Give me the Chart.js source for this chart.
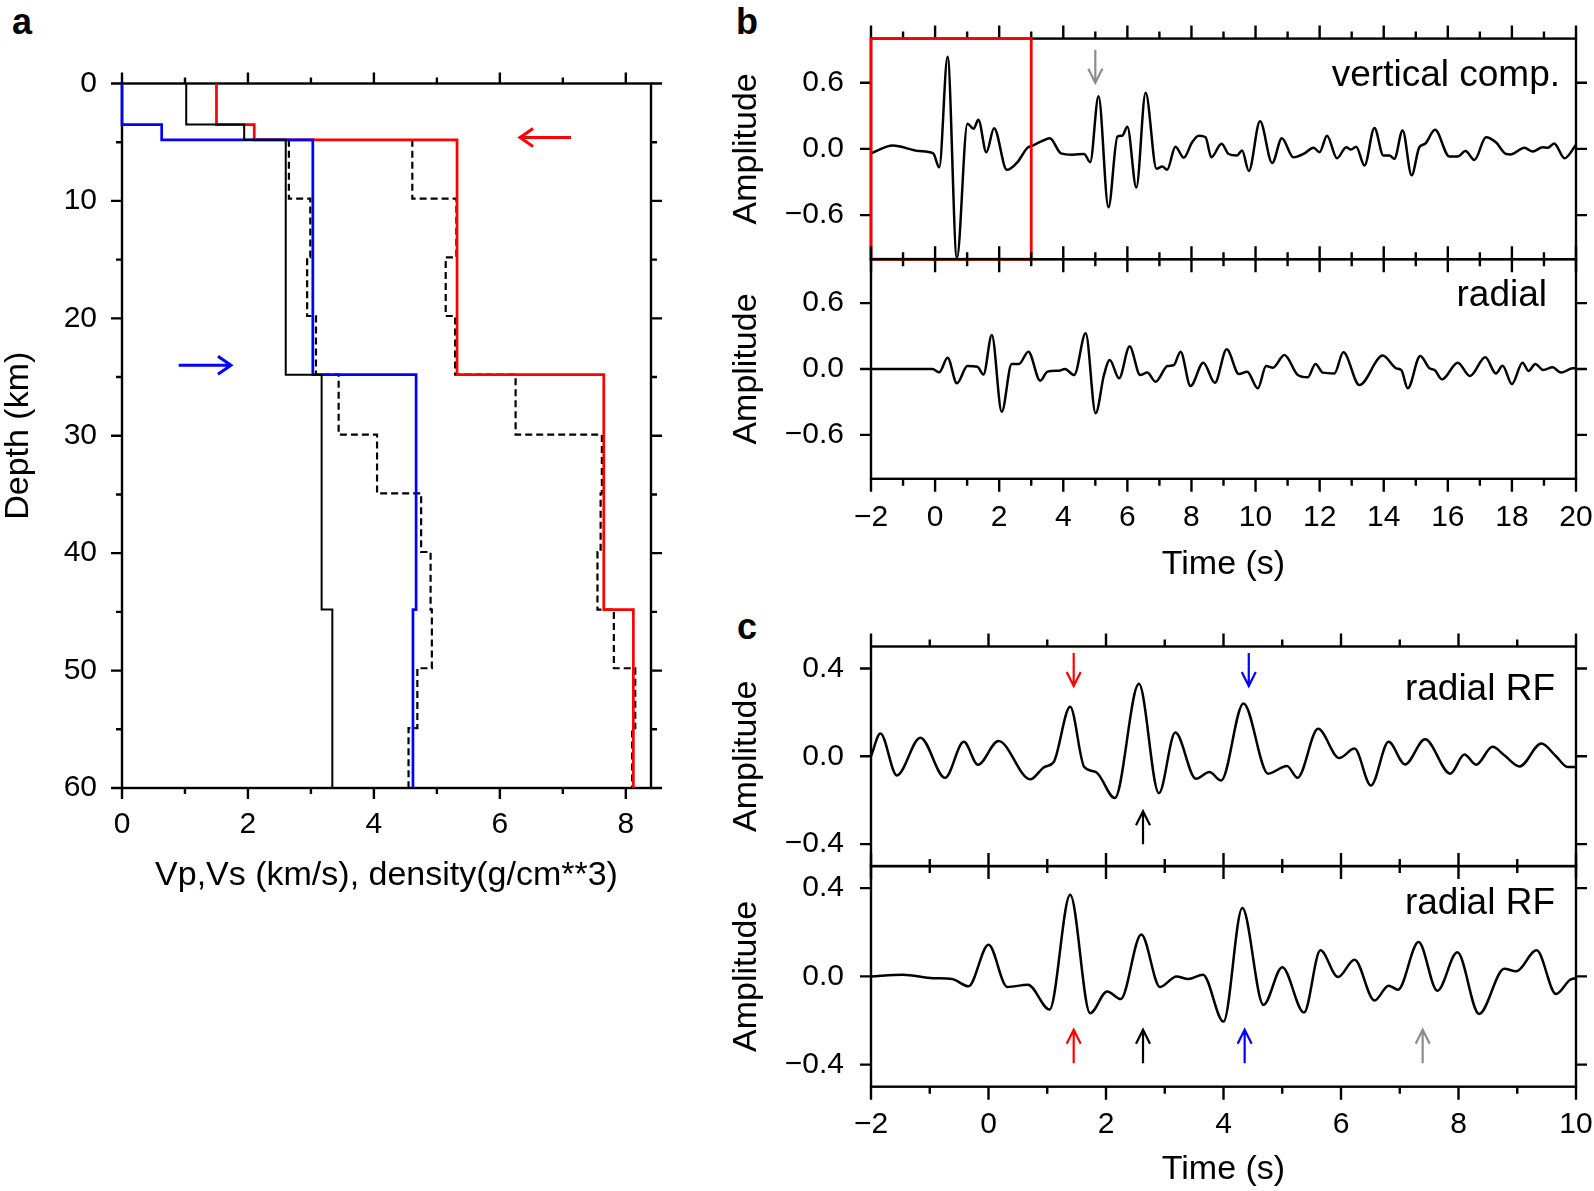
<!DOCTYPE html>
<html>
<head>
<meta charset="utf-8">
<script src="https://cdn.jsdelivr.net/npm/chart.js@4.4.1/dist/chart.umd.min.js"></script>
<style>
body { margin: 0; background: #fff; width: 1594px; height: 1191px; position: relative; overflow: hidden; font-family: "Liberation Sans", Arial, sans-serif; }
canvas { position: absolute; }
.panel { position: absolute; font-weight: bold; font-size: 36px; line-height: 1; color: #000; }
</style>
</head>
<body>
<div class="panel" style="left:12px;top:4px">a</div>
<div class="panel" style="left:736px;top:4px">b</div>
<div class="panel" style="left:737px;top:609px">c</div>
<canvas id="ca" width="700" height="920" style="left:0;top:0"></canvas>
<canvas id="cb1" width="894" height="280" style="left:700px;top:0"></canvas>
<canvas id="cb2" width="894" height="360" style="left:700px;top:240px"></canvas>
<canvas id="cc1" width="894" height="280" style="left:700px;top:600px"></canvas>
<canvas id="cc2" width="894" height="341" style="left:700px;top:850px"></canvas>
<script>
// ---- panel a: layered models (depth in km, values in km/s or g/cm^3) ----
var modelDepth = [0, 3.5, 4.8, 24.8, 44.8, 60];
var vpModel = [1.5, 2.1, 5.32, 7.65, 8.12];
var vsModel = [0, 0.63, 3.03, 4.67, 4.62];
var rhoModel = [1.02, 1.94, 2.6, 3.17, 3.34];
// inverted models (dashed)
var invDepth = [4.8, 9.8, 14.8, 19.8, 24.8, 29.9, 34.9, 39.9, 44.8, 49.8, 54.9, 60];
var vpInv = [4.61, 5.31, 5.14, 5.29, 6.25, 7.62, 7.6, 7.55, 7.81, 8.15, 8.1];
var vsInv = [2.65, 2.99, 2.94, 3.08, 3.44, 4.05, 4.75, 4.9, 4.92, 4.69, 4.55];
var velTicks = [0, 2, 4, 6, 8];
var velMinor = [1, 3, 5, 7];
var depthTicks = [0, 10, 20, 30, 40, 50, 60];
var depthMinor = [5, 15, 25, 35, 45, 55];

// ---- panel b: vertical and radial seismograms ----
var vertT = [-2, -1.32, -0.49, -0.06, 0.13, 0.39, 0.68, 1.01, 1.2, 1.35, 1.6, 1.84, 2.24, 2.57, 2.88, 3.04, 3.33, 3.58, 3.93, 4.29,
  4.65, 4.84, 5.1, 5.41, 5.69, 5.84, 6.0, 6.28, 6.57, 6.91, 7.09, 7.24, 7.5, 7.76, 8.02, 8.23, 8.44, 8.62, 8.94, 9.16,
  9.42, 9.58, 9.79, 10.14, 10.52, 10.82, 11.18, 11.53, 11.81, 12.0, 12.23, 12.54, 12.83, 12.98, 13.14, 13.4, 13.71, 13.99, 14.18, 14.33,
  14.59, 14.87, 15.11, 15.29, 15.6, 16.05, 16.31, 16.55, 16.83, 17.19, 17.5, 17.82, 17.97, 18.39, 18.65, 18.96, 19.12, 19.32, 19.64, 20];
var vertA = [-0.04, 0.03, -0.02, -0.04, -0.167, 0.836, -0.99, 0.228, 0.182, 0.264, -0.03, 0.188, -0.19, -0.12, 0.01, 0.03, 0.07, 0.097, -0.04, -0.052,
  -0.046, -0.12, 0.477, -0.53, 0.112, 0.12, 0.2, -0.35, 0.51, -0.18, -0.16, -0.19, 0.02, -0.08, 0.06, 0.12, 0.106, -0.076, 0.046, -0.046,
  -0.06, -0.015, -0.2, 0.25, -0.128, 0.097, -0.076, -0.04, 0.01, -0.03, 0.12, -0.085, 0.015, -0.006, 0.02, -0.15, 0.19, -0.06, -0.06, -0.09,
  0.167, -0.24, 0.015, 0.046, 0.173, -0.07, -0.07, -0.02, -0.1, 0.106, 0.06, -0.046, -0.05, 0.01, -0.024, 0.015, 0.01, 0.05, -0.085, 0.036];
var radT = [-2, -0.08, 0.13, 0.39, 0.68, 1.01, 1.32, 1.51, 1.77, 2.08, 2.39, 2.62, 2.91, 3.28, 3.51, 3.87, 4.05, 4.34, 4.7, 5.01,
  5.27, 5.45, 5.74, 6.07, 6.4, 6.62, 6.88, 7.25, 7.45, 7.66, 7.97, 8.37, 8.73, 9.1, 9.48, 9.74, 10.07, 10.33, 10.54, 10.9,
  11.32, 11.63, 11.87, 12.1, 12.46, 12.74, 13.24, 13.97, 14.39, 14.55, 14.75, 15.14, 15.43, 15.59, 15.82, 16.31, 16.69, 17.17, 17.5, 17.71,
  18.0, 18.33, 18.52, 18.73, 18.98, 19.27, 19.53, 19.9, 20];
var radA = [0, 0, -0.03, 0.103, -0.13, 0.027, 0.02, -0.05, 0.31, -0.39, 0.046, 0.046, 0.158, -0.106, -0.024, -0.015, 0, -0.055, 0.325, -0.404,
  -0.055, 0.082, -0.085, 0.204, -0.055, -0.033, -0.115, 0.027, 0.036, 0.158, -0.155, 0.058, -0.125, 0.179, -0.046, -0.024, -0.176, 0.027, 0.012, 0.128,
  -0.055, -0.076, 0.046, -0.033, -0.04, 0.152, -0.146, 0.122, 0.006, -0.01, -0.176, 0.119, 0.006, -0.01, -0.094, 0.058, -0.064, 0.106, -0.04, 0.03,
  -0.137, 0.058, -0.018, 0.046, -0.01, 0.015, -0.033, 0.006, 0.006];
var seisTicks = [-2, 0, 2, 4, 6, 8, 10, 12, 14, 16, 18, 20];
var seisMinor = [-1, 1, 3, 5, 7, 9, 11, 13, 15, 17, 19];
var seisAmpTicks = [-0.6, 0, 0.6];

// ---- panel c: radial receiver functions ----
var rf1T = [-2, -1.84, -1.56, -1.16, -0.74, -0.42, -0.18, 0.17, 0.71, 0.95, 1.11, 1.39, 1.63, 1.83, 2.15, 2.56, 2.9, 3.18, 3.53, 3.76,
  3.96, 4.34, 4.76, 5.08, 5.26, 5.61, 5.97, 6.23, 6.51, 6.81, 7.09, 7.43, 7.86, 8.1, 8.3, 8.58, 8.78, 9.04, 9.41, 9.66, 9.86, 10];
var rf1A = [0, 0.104, -0.087, 0.085, -0.098, 0.066, -0.038, 0.07, -0.105, -0.049, -0.026, 0.226, -0.049, -0.072, -0.19, 0.33, -0.168, 0.108, -0.102, -0.072,
  -0.11, 0.241, -0.079, -0.044, -0.098, 0.125, -0.008, 0.035, -0.133, 0.066, -0.037, 0.078, -0.079, 0.008, -0.038, 0.043, 0.005, -0.046, 0.058, 0, -0.049, -0.049];
var rf2T = [-2, -1.46, -0.94, -0.62, -0.34, 0, 0.32, 0.67, 1.04, 1.39, 1.73, 2.02, 2.25, 2.6, 2.92, 3.2, 3.4, 3.65, 4.0, 4.32,
  4.68, 5.0, 5.37, 5.65, 5.95, 6.23, 6.57, 6.81, 6.97, 7.32, 7.64, 7.98, 8.35, 8.78, 8.98, 9.33, 9.66, 9.9, 10];
var rf2A = [0, 0.008, -0.008, -0.012, -0.045, 0.144, -0.048, -0.038, -0.15, 0.37, -0.167, -0.068, -0.103, 0.19, -0.048, 0, -0.012, 0.008, -0.205, 0.31,
  -0.129, 0.042, -0.164, 0.118, -0.003, 0.076, -0.109, -0.042, -0.06, 0.156, -0.065, 0.109, -0.17, 0.035, 0.023, 0.118, -0.08, -0.015, -0.008];
var rfTicks = [-2, 0, 2, 4, 6, 8, 10];
var rfMinor = [-1, 1, 3, 5, 7, 9];
var rfAmpTicks = [-0.4, 0, 0.4];

var FONT = "'Liberation Sans', Arial, sans-serif";
var GRAY = '#8c8c8c';

function steps(depths, vals) {
    var pts = [];
    vals.forEach(function (v, i) {
        pts.push({x: v, y: depths[i]}, {x: v, y: depths[i + 1]});
    });
    return pts;
}

function zip(t, a) {
    return t.map(function (v, i) { return {x: v, y: a[i]}; });
}

function signed(v, dec) {
    var s = Math.abs(v).toFixed(dec);
    return (v < 0 ? '\u2212' : '') + s;
}

function noPad(s) {
    s.paddingLeft = 0; s.paddingRight = 0; s.paddingTop = 0; s.paddingBottom = 0;
}

function drawArrow(ctx, x0, y0, x1, y1, color, head, half, lw) {
    var ang = Math.atan2(y1 - y0, x1 - x0);
    var bx = x1 - head * Math.cos(ang), by = y1 - head * Math.sin(ang);
    var nx = -Math.sin(ang) * half, ny = Math.cos(ang) * half;
    ctx.strokeStyle = color;
    ctx.lineWidth = lw;
    ctx.lineCap = 'butt';
    ctx.beginPath();
    ctx.moveTo(x0, y0);
    ctx.lineTo(x1, y1);
    ctx.moveTo(bx + nx, by + ny);
    ctx.lineTo(x1, y1);
    ctx.lineTo(bx - nx, by - ny);
    ctx.stroke();
}

// frame, outward ticks, arrows, box and in-plot label
var framePlugin = {
    id: 'frame',
    beforeDatasetsDraw: function (chart, args, o) {
        var ctx = chart.ctx, a = chart.chartArea, xs = chart.scales.x, ys = chart.scales.y;
        ctx.save();
        ctx.strokeStyle = '#000';
        ctx.lineWidth = 2.4;
        ctx.strokeRect(a.left, a.top, a.right - a.left, a.bottom - a.top);
        function tx(v, len) {
            var p = xs.getPixelForValue(v);
            ctx.beginPath();
            ctx.moveTo(p, a.top); ctx.lineTo(p, a.top - len);
            ctx.moveTo(p, a.bottom); ctx.lineTo(p, a.bottom + len);
            ctx.stroke();
        }
        function ty(v, len) {
            var p = ys.getPixelForValue(v);
            ctx.beginPath();
            ctx.moveTo(a.left, p); ctx.lineTo(a.left - len, p);
            ctx.moveTo(a.right, p); ctx.lineTo(a.right + len, p);
            ctx.stroke();
        }
        o.xMajor.forEach(function (v) { tx(v, o.major); });
        o.xMinor.forEach(function (v) { tx(v, o.minor); });
        o.yMajor.forEach(function (v) { ty(v, o.yMajorLen || o.major); });
        (o.yMinor || []).forEach(function (v) { ty(v, o.minor); });
        ctx.restore();
    },
    afterDatasetsDraw: function (chart, args, o) {
        var ctx = chart.ctx, a = chart.chartArea, xs = chart.scales.x, ys = chart.scales.y;
        ctx.save();
        if (o.box) {
            var x0 = xs.getPixelForValue(o.box.x0), x1 = xs.getPixelForValue(o.box.x1);
            var y0 = ys.getPixelForValue(o.box.y0), y1 = ys.getPixelForValue(o.box.y1);
            ctx.strokeStyle = o.box.color;
            ctx.lineWidth = 2.8;
            ctx.strokeRect(x0, y1, x1 - x0, y0 - y1);
        }
        (o.arrows || []).forEach(function (ar) {
            drawArrow(ctx, xs.getPixelForValue(ar.x0), ys.getPixelForValue(ar.y0),
                xs.getPixelForValue(ar.x1), ys.getPixelForValue(ar.y1),
                ar.color, o.head, o.half, o.arrowWidth);
        });
        if (o.label) {
            ctx.fillStyle = '#000';
            ctx.font = '37px ' + FONT;
            ctx.textAlign = 'right';
            ctx.textBaseline = 'middle';
            ctx.fillText(o.label.text, a.right - o.label.dx, a.top + o.label.dy);
        }
        ctx.restore();
    }
};

function makeChart(id, p) {
    return new Chart(document.getElementById(id), {
        type: 'scatter',
        data: {datasets: p.datasets},
        options: {
            responsive: false,
            animation: false,
            devicePixelRatio: 1,
            layout: {padding: {left: 0, top: p.padTop, right: p.padRight, bottom: 0}},
            plugins: {legend: {display: false}, tooltip: {enabled: false}, frame: p.frame},
            scales: {
                x: {
                    type: 'linear', min: p.xMin, max: p.xMax,
                    grid: {display: false, drawTicks: false}, border: {display: false},
                    afterBuildTicks: function (s) { s.ticks = p.xTicks.map(function (v) { return {value: v}; }); },
                    afterFit: function (s) { s.height = p.xHeight; noPad(s); },
                    ticks: {display: p.xLabels, padding: p.xPad || 0, color: '#000', autoSkip: false, maxRotation: 0,
                        font: {family: FONT, size: 30}, callback: p.xFmt},
                    title: {display: !!p.xTitle, text: p.xTitle, color: '#000',
                        font: {family: FONT, size: 34}, padding: {top: 0, bottom: p.xTitlePad || 0}}
                },
                y: {
                    type: 'linear', min: p.yMin, max: p.yMax, reverse: !!p.yReverse,
                    grid: {display: false, drawTicks: false}, border: {display: false},
                    afterBuildTicks: function (s) { s.ticks = p.yTicks.map(function (v) { return {value: v}; }); },
                    afterFit: function (s) { s.width = p.yWidth; noPad(s); },
                    ticks: {padding: p.yPad, color: '#000', autoSkip: false,
                        font: {family: FONT, size: 30}, callback: p.yFmt},
                    title: {display: true, text: p.yTitle, color: '#000',
                        font: {family: FONT, size: 34}, padding: {top: p.yTitlePad, bottom: 0}}
                }
            }
        },
        plugins: [framePlugin]
    });
}

function trace(t, a) {
    return [{data: zip(t, a), showLine: true, borderColor: '#000', borderWidth: 2.5,
        pointRadius: 0, tension: 0.4, cubicInterpolationMode: 'monotone'}];
}

// panel a
makeChart('ca', {
    padTop: 83.5, padRight: 49, yWidth: 122, xHeight: 132,
    xMin: 0, xMax: 8.4, xTicks: velTicks, xLabels: true, xPad: 19,
    xFmt: function (v) { return String(v); },
    xTitle: 'Vp,Vs (km/s), density(g/cm**3)', xTitlePad: 24,
    yMin: 0, yMax: 60, yReverse: true, yTicks: depthTicks, yPad: 25,
    yFmt: function (v) { return String(v); },
    yTitle: 'Depth (km)', yTitlePad: -2,
    datasets: [
        {data: steps(invDepth, vsInv), showLine: true, borderColor: '#000', borderWidth: 2.2, borderDash: [7, 4], pointRadius: 0, order: 5, clip: false},
        {data: steps(invDepth, vpInv), showLine: true, borderColor: '#000', borderWidth: 2.2, borderDash: [7, 4], pointRadius: 0, order: 4, clip: false},
        {data: steps(modelDepth, vpModel), showLine: true, borderColor: '#ff0000', borderWidth: 2.7, pointRadius: 0, order: 3, clip: false},
        {data: steps(modelDepth, vsModel), showLine: true, borderColor: '#0000ff', borderWidth: 2.7, pointRadius: 0, order: 2, clip: false},
        {data: steps(modelDepth, rhoModel), showLine: true, borderColor: '#000', borderWidth: 2, pointRadius: 0, order: 1, clip: false}
    ],
    frame: {xMajor: velTicks, xMinor: velMinor, yMajor: depthTicks, yMinor: depthMinor, major: 11, minor: 6,
        head: 13, half: 9, arrowWidth: 3,
        arrows: [
            {x0: 7.13, y0: 4.6, x1: 6.32, y1: 4.6, color: '#ff0000'},
            {x0: 0.9, y0: 24.0, x1: 1.73, y1: 24.0, color: '#0000ff'}
        ]}
});

// panel b, vertical component
makeChart('cb1', {
    padTop: 38.6, padRight: 18, yWidth: 171, xHeight: 20.8,
    xMin: -2, xMax: 20, xTicks: seisTicks, xLabels: false,
    yMin: -1, yMax: 1, yTicks: seisAmpTicks, yPad: 27,
    yFmt: function (v) { return signed(v, 1); },
    yTitle: 'Amplitude', yTitlePad: 26.6,
    datasets: trace(vertT, vertA),
    frame: {xMajor: seisTicks, xMinor: seisMinor, yMajor: seisAmpTicks, major: 13, minor: 7, yMajorLen: 11,
        head: 14, half: 7, arrowWidth: 2.2,
        box: {x0: -2, x1: 3, y0: -1, y1: 1, color: '#ff0000'},
        arrows: [{x0: 5.0, y0: 0.9, x1: 5.0, y1: 0.6, color: GRAY}],
        label: {text: 'vertical comp.', dx: 16, dy: 37}}
});

// panel b, radial component
makeChart('cb2', {
    padTop: 19.2, padRight: 18, yWidth: 171, xHeight: 121.2,
    xMin: -2, xMax: 20, xTicks: seisTicks, xLabels: true, xPad: 21,
    xFmt: function (v) { return signed(v, 0); },
    xTitle: 'Time (s)', xTitlePad: 14.6,
    yMin: -1, yMax: 1, yTicks: seisAmpTicks, yPad: 27,
    yFmt: function (v) { return signed(v, 1); },
    yTitle: 'Amplitude', yTitlePad: 26.6,
    datasets: trace(radT, radA),
    frame: {xMajor: seisTicks, xMinor: seisMinor, yMajor: seisAmpTicks, major: 13, minor: 7, yMajorLen: 11,
        label: {text: 'radial', dx: 29, dy: 37}}
});

// panel c, upper receiver function
makeChart('cc1', {
    padTop: 46.5, padRight: 18, yWidth: 171, xHeight: 13.9,
    xMin: -2, xMax: 10, xTicks: rfTicks, xLabels: false,
    yMin: -0.5, yMax: 0.5, yTicks: rfAmpTicks, yPad: 27,
    yFmt: function (v) { return signed(v, 1); },
    yTitle: 'Amplitude', yTitlePad: 26.6,
    datasets: trace(rf1T, rf1A),
    frame: {xMajor: rfTicks, xMinor: rfMinor, yMajor: rfAmpTicks, major: 13, minor: 7, yMajorLen: 11,
        head: 14, half: 7, arrowWidth: 2.2,
        arrows: [
            {x0: 1.45, y0: 0.47, x1: 1.45, y1: 0.32, color: '#ff0000'},
            {x0: 4.43, y0: 0.47, x1: 4.43, y1: 0.32, color: '#0000ff'},
            {x0: 2.63, y0: -0.40, x1: 2.63, y1: -0.25, color: '#000'}
        ],
        label: {text: 'radial RF', dx: 21, dy: 43}}
});

// panel c, lower receiver function
makeChart('cc2', {
    padTop: 16.1, padRight: 18, yWidth: 171, xHeight: 104.3,
    xMin: -2, xMax: 10, xTicks: rfTicks, xLabels: true, xPad: 20,
    xFmt: function (v) { return signed(v, 0); },
    xTitle: 'Time (s)', xTitlePad: 0.6,
    yMin: -0.5, yMax: 0.5, yTicks: rfAmpTicks, yPad: 27,
    yFmt: function (v) { return signed(v, 1); },
    yTitle: 'Amplitude', yTitlePad: 26.6,
    datasets: trace(rf2T, rf2A),
    frame: {xMajor: rfTicks, xMinor: rfMinor, yMajor: rfAmpTicks, major: 13, minor: 7, yMajorLen: 11,
        head: 14, half: 7, arrowWidth: 2.2,
        arrows: [
            {x0: 1.45, y0: -0.394, x1: 1.45, y1: -0.242, color: '#ff0000'},
            {x0: 2.63, y0: -0.394, x1: 2.63, y1: -0.242, color: '#000'},
            {x0: 4.36, y0: -0.394, x1: 4.36, y1: -0.242, color: '#0000ff'},
            {x0: 7.39, y0: -0.394, x1: 7.39, y1: -0.242, color: GRAY}
        ],
        label: {text: 'radial RF', dx: 21, dy: 38}}
});
</script>
</body>
</html>
